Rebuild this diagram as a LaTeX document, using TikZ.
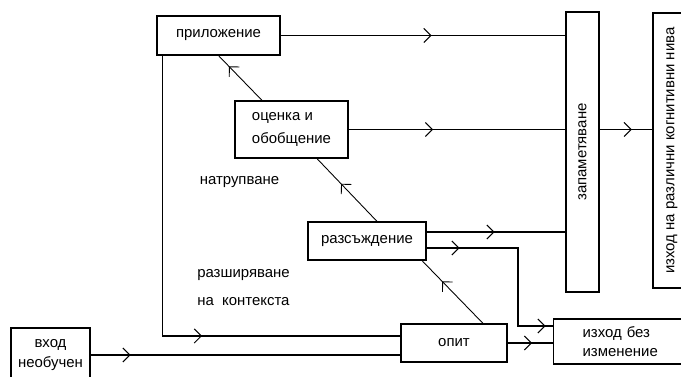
\documentclass[tikz,border=0pt]{standalone}
\usepackage{fontspec}
\setmainfont{Liberation Sans}
\usepackage{graphicx}
\usetikzlibrary{arrows.meta,decorations.markings,calc}

\tikzset{
  box/.style={draw, line width=0.7pt, inner sep=2pt},
  flow/.style={postaction={decorate, decoration={markings,
    mark=at position #1 with {\arrow{Straight Barb[length=4pt,width=8pt]}}}}}
}

\begin{document}
\begin{tikzpicture}[font=\fontsize{8.5}{11}\selectfont, line width=0.6pt]
\useasboundingbox (0,0) rectangle (13.62,7.54);

% Stages of learning
\node[box, minimum width=2.46cm, minimum height=0.78cm] (pril) at (4.37,6.83) {приложение};
\node[box, minimum width=2.26cm, minimum height=1.14cm, align=left] (ocen) at (5.83,4.95) {оценка и\\[2pt]обобщение};
\node[box, minimum width=2.36cm, minimum height=0.76cm] (razs) at (7.34,2.72) {разсъждение};
\node[box, minimum width=2.12cm, minimum height=0.76cm] (opit) at (9.08,0.68) {опит};

% Input and outputs
\node[box, minimum width=1.58cm, minimum height=1.08cm, align=center] (vhod) at (1.01,0.44) {вход\\необучен};
\node[box, anchor=west, text width=2.4cm, inner xsep=0.58cm, minimum height=0.9cm, align=left] (izh) at (11.06,0.71) {изход без\\изменение};
\node[box, minimum width=0.66cm, minimum height=5.6cm] (zap) at (11.65,4.5) {\rotatebox{90}{запаметяване}};
\node[box, minimum width=0.76cm, minimum height=5.5cm] (niva) at (13.44,4.53) {\rotatebox{90}{изход на различни когнитивни нива}};

% Labels
\node (natr) at (4.79,3.9) {натрупване};
\node[align=left] (razsh) at (4.87,1.79) {разширяване\\[5pt]на~ контекста};

% Flows to memory
\draw[flow=0.53] (pril.east) -- (pril.east -| zap.west);
\draw[flow=0.39] (ocen.east) -- (ocen.east -| zap.west);
\draw[flow=0.49] ([yshift=0.18cm]razs.east) -- ([yshift=0.18cm]razs.east -| zap.west);
\draw[flow=0.61] (zap.east |- ocen.east) -- (niva.west |- ocen.east);

% Flows to unchanged output
\draw[flow=0.66cm, flow=3.94cm] ([yshift=-0.14cm]razs.east) -| (10.36,1.02) -- (10.36,1.02 -| izh.west);
\draw[flow=0.54] (opit.east) -- (opit.east -| izh.west);

% Input and context loop
\draw[flow=0.8cm] (vhod.east) -- (vhod.east -| opit.west);
\draw[flow=6.4cm] ([xshift=0.12cm]pril.south west) |- ([yshift=0.14cm]opit.west);

% Upward steps
\draw[flow=0.67, line width=0.5pt] ([xshift=0.58cm]opit.north) -- ([xshift=1.1cm]razs.south);
\draw[flow=0.6, line width=0.5pt] ([xshift=0.2cm]razs.north) -- ([xshift=0.51cm]ocen.south);
\draw[flow=0.76, line width=0.5pt] ([xshift=-0.59cm]ocen.north) -- (pril.south);

\end{tikzpicture}
\end{document}
